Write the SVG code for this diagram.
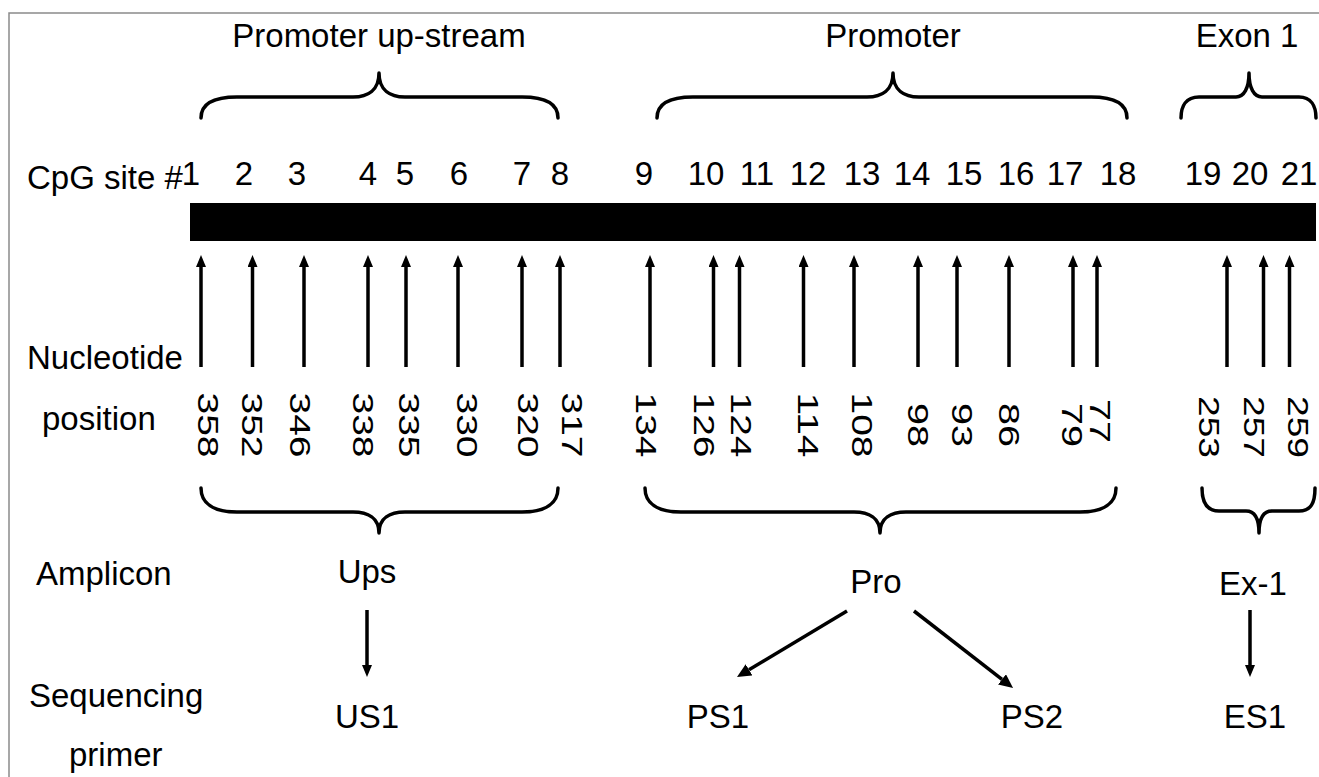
<svg xmlns="http://www.w3.org/2000/svg" width="1319" height="777" viewBox="0 0 1319 777">
  <style>
    text { font-family: "Liberation Sans", Arial, sans-serif; fill: #000; }
    .lbl { font-size: 33px; }
    .mid { text-anchor: middle; }
    .pos { font-size: 30px; text-anchor: middle; }
    .brace { fill: none; stroke: #000; stroke-width: 3.5; stroke-linecap: round; stroke-linejoin: round; }
    .arr { fill: none; stroke: #000; stroke-width: 3.5; marker-end: url(#ah); }
    .arr2 { fill: none; stroke: #000; stroke-width: 3.5; marker-end: url(#ah2); }
  </style>
  <defs>
    <marker id="ah" viewBox="0 0 12 10" refX="0" refY="5" markerWidth="12" markerHeight="10" markerUnits="userSpaceOnUse" orient="auto">
      <path d="M0,0 L12,5 L0,10 z" fill="#000"/>
    </marker>
    <marker id="ah2" viewBox="0 0 14 13" refX="0" refY="6.5" markerWidth="14" markerHeight="13" markerUnits="userSpaceOnUse" orient="auto">
      <path d="M0,0 L14,6.5 L0,13 z" fill="#000"/>
    </marker>
  </defs>

  <rect width="1319" height="777" fill="#fff"/>
  <!-- frame -->
  <path d="M9,777 V13 H1319" fill="none" stroke="#8a8a8a" stroke-width="1.5"/>

  <!-- region headings -->
  <g id="region-upstream">
    <text class="lbl mid" x="379" y="47">Promoter up-stream</text>
    <path class="brace" d="M201,118 C201,104 213,97 237,97 L353,97 C368,97 379,90 379,73 C379,90 390,97 405,97 L522,97 C546,97 558,104 558,118"/>
  </g>
  <g id="region-promoter">
    <text class="lbl mid" x="893" y="47">Promoter</text>
    <path class="brace" d="M657,118 C657,104 669,97 693,97 L867,97 C882,97 893,90 893,73 C893,90 904,97 919,97 L1091,97 C1115,97 1127,104 1127,118"/>
  </g>
  <g id="region-exon1">
    <text class="lbl mid" x="1247" y="47">Exon 1</text>
    <path class="brace" d="M1181,118 C1181,106 1186,97 1199,97 L1236,97 C1244,97 1249,88 1249,73 C1249,88 1254,97 1262,97 L1299,97 C1311,97 1316,106 1316,118"/>
  </g>

  <!-- CpG sites -->
  <g id="cpg-sites">
    <text class="lbl" x="27" y="189">CpG site #</text>
    <g class="lbl mid">
      <text class="lbl mid" x="191" y="185">1</text>
      <text class="lbl mid" x="244" y="185">2</text>
      <text class="lbl mid" x="297" y="185">3</text>
      <text class="lbl mid" x="368" y="185">4</text>
      <text class="lbl mid" x="405" y="185">5</text>
      <text class="lbl mid" x="459" y="185">6</text>
      <text class="lbl mid" x="522" y="185">7</text>
      <text class="lbl mid" x="560" y="185">8</text>
      <text class="lbl mid" x="644" y="185">9</text>
      <text class="lbl mid" x="706" y="185">10</text>
      <text class="lbl mid" x="757" y="185">11</text>
      <text class="lbl mid" x="808" y="185">12</text>
      <text class="lbl mid" x="862" y="185">13</text>
      <text class="lbl mid" x="912" y="185">14</text>
      <text class="lbl mid" x="964" y="185">15</text>
      <text class="lbl mid" x="1016" y="185">16</text>
      <text class="lbl mid" x="1065" y="185">17</text>
      <text class="lbl mid" x="1118" y="185">18</text>
      <text class="lbl mid" x="1203" y="185">19</text>
      <text class="lbl mid" x="1250" y="185">20</text>
      <text class="lbl mid" x="1299" y="185">21</text>
    </g>
  </g>

  <!-- gene bar -->
  <g id="gene-bar">
    <rect x="190" y="203" width="1126" height="38" fill="#000"/>
  </g>

  <!-- row labels -->
  <g id="row-labels">
    <text class="lbl" x="27" y="369">Nucleotide</text>
    <text class="lbl" x="42" y="430">position</text>
    <text class="lbl" x="36" y="585">Amplicon</text>
    <text class="lbl" x="29" y="707">Sequencing</text>
    <text class="lbl" x="69" y="766">primer</text>
  </g>

  <!-- nucleotide positions -->
  <g id="positions">
    <text class="pos" transform="translate(198,425) rotate(90)" textLength="65" lengthAdjust="spacingAndGlyphs">358</text>
    <text class="pos" transform="translate(242,425) rotate(90)" textLength="65" lengthAdjust="spacingAndGlyphs">352</text>
    <text class="pos" transform="translate(290,425) rotate(90)" textLength="65" lengthAdjust="spacingAndGlyphs">346</text>
    <text class="pos" transform="translate(353,425) rotate(90)" textLength="65" lengthAdjust="spacingAndGlyphs">338</text>
    <text class="pos" transform="translate(399,425) rotate(90)" textLength="65" lengthAdjust="spacingAndGlyphs">335</text>
    <text class="pos" transform="translate(457,425) rotate(90)" textLength="65" lengthAdjust="spacingAndGlyphs">330</text>
    <text class="pos" transform="translate(518,425) rotate(90)" textLength="65" lengthAdjust="spacingAndGlyphs">320</text>
    <text class="pos" transform="translate(562,425) rotate(90)" textLength="65" lengthAdjust="spacingAndGlyphs">317</text>
    <text class="pos" transform="translate(636,425) rotate(90)" textLength="65" lengthAdjust="spacingAndGlyphs">134</text>
    <text class="pos" transform="translate(694,425) rotate(90)" textLength="65" lengthAdjust="spacingAndGlyphs">126</text>
    <text class="pos" transform="translate(731,425) rotate(90)" textLength="65" lengthAdjust="spacingAndGlyphs">124</text>
    <text class="pos" transform="translate(798,425) rotate(90)" textLength="65" lengthAdjust="spacingAndGlyphs">114</text>
    <text class="pos" transform="translate(852,425) rotate(90)" textLength="65" lengthAdjust="spacingAndGlyphs">108</text>
    <text class="pos" transform="translate(908,425) rotate(90)" textLength="44" lengthAdjust="spacingAndGlyphs">98</text>
    <text class="pos" transform="translate(952,425) rotate(90)" textLength="44" lengthAdjust="spacingAndGlyphs">93</text>
    <text class="pos" transform="translate(999,425) rotate(90)" textLength="44" lengthAdjust="spacingAndGlyphs">86</text>
    <text class="pos" transform="translate(1062,425) rotate(90)" textLength="44" lengthAdjust="spacingAndGlyphs">79</text>
    <text class="pos" transform="translate(1090,421) rotate(90)" textLength="44" lengthAdjust="spacingAndGlyphs">77</text>
    <text class="pos" transform="translate(1199,427) rotate(90)" textLength="62" lengthAdjust="spacingAndGlyphs">253</text>
    <text class="pos" transform="translate(1244,427) rotate(90)" textLength="62" lengthAdjust="spacingAndGlyphs">257</text>
    <text class="pos" transform="translate(1288,427) rotate(90)" textLength="62" lengthAdjust="spacingAndGlyphs">259</text>
  </g>

  <!-- amplicon braces and labels -->
  <g id="amplicon-ups">
    <path class="brace" d="M201,488 C201,503 213,512 237,512 L353,512 C368,512 379,518 379,533 C379,518 390,512 405,512 L522,512 C546,512 558,503 558,488"/>
    <text class="lbl mid" x="367" y="583">Ups</text>
  </g>
  <g id="amplicon-pro">
    <path class="brace" d="M645,488 C645,503 657,512 681,512 L854,512 C869,512 880,518 880,533 C880,518 891,512 906,512 L1080,512 C1104,512 1116,503 1116,488"/>
    <text class="lbl mid" x="876" y="593">Pro</text>
  </g>
  <g id="amplicon-ex1">
    <path class="brace" d="M1202,488 C1202,503 1207,511 1219,511 L1246,511 C1254,511 1259,517 1259,533 C1259,517 1264,511 1272,511 L1299,511 C1311,511 1315,503 1315,488"/>
    <text class="lbl mid" x="1253" y="595">Ex-1</text>
  </g>

  <!-- sequencing primers -->
  <g id="primer-us1"><text class="lbl mid" x="367" y="728">US1</text></g>
  <g id="primer-ps1"><text class="lbl mid" x="718" y="728">PS1</text></g>
  <g id="primer-ps2"><text class="lbl mid" x="1032" y="728">PS2</text></g>
  <g id="primer-es1"><text class="lbl mid" x="1255" y="728">ES1</text></g>

  <!-- connectors -->
  <g id="connectors">
    <line class="arr" x1="201" y1="367" x2="201" y2="267"/>
    <line class="arr" x1="252.5" y1="367" x2="252.5" y2="267"/>
    <line class="arr" x1="304" y1="367" x2="304" y2="267"/>
    <line class="arr" x1="368" y1="367" x2="368" y2="267"/>
    <line class="arr" x1="406" y1="367" x2="406" y2="267"/>
    <line class="arr" x1="458" y1="367" x2="458" y2="267"/>
    <line class="arr" x1="522" y1="367" x2="522" y2="267"/>
    <line class="arr" x1="560" y1="367" x2="560" y2="267"/>
    <line class="arr" x1="650" y1="367" x2="650" y2="267"/>
    <line class="arr" x1="713.5" y1="367" x2="713.5" y2="267"/>
    <line class="arr" x1="739.5" y1="367" x2="739.5" y2="267"/>
    <line class="arr" x1="803.5" y1="367" x2="803.5" y2="267"/>
    <line class="arr" x1="854" y1="367" x2="854" y2="267"/>
    <line class="arr" x1="918" y1="367" x2="918" y2="267"/>
    <line class="arr" x1="957" y1="367" x2="957" y2="267"/>
    <line class="arr" x1="1009" y1="367" x2="1009" y2="267"/>
    <line class="arr" x1="1073" y1="367" x2="1073" y2="267"/>
    <line class="arr" x1="1097" y1="367" x2="1097" y2="267"/>
    <line class="arr" x1="1227" y1="367" x2="1227" y2="267"/>
    <line class="arr" x1="1263.5" y1="367" x2="1263.5" y2="267"/>
    <line class="arr" x1="1289.5" y1="367" x2="1289.5" y2="267"/>

    <line class="arr" x1="367" y1="610" x2="367" y2="665"/>
    <line class="arr" x1="1250" y1="610" x2="1250" y2="665"/>
    <line class="arr2" x1="847" y1="611" x2="749" y2="669.8"/>
    <line class="arr2" x1="914" y1="611" x2="1002" y2="679.4"/>
  </g>
</svg>
